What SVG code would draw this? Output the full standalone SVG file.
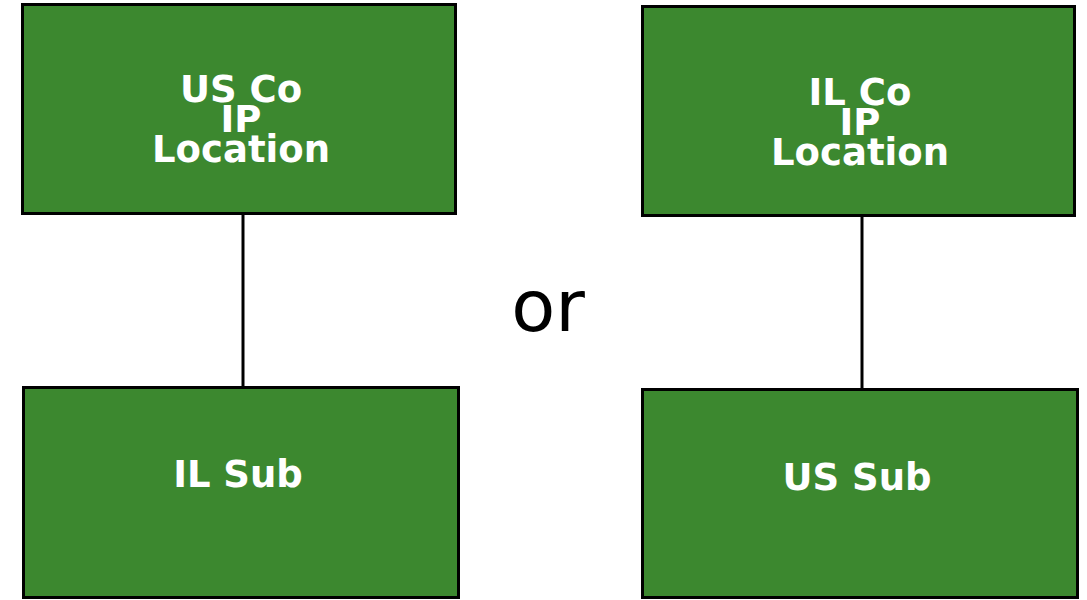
<svg xmlns="http://www.w3.org/2000/svg" width="1087" height="600" viewBox="0 0 1087 600">
  <style>
    .box { fill: #3c882f; stroke: #000; stroke-width: 3; }
    .lbl { font-family: "DejaVu Sans", Verdana, sans-serif; font-weight: bold; font-size: 37px; fill: #fff; text-anchor: middle; }
    .link { stroke: #000; stroke-width: 3; fill: none; }
    .or { font-family: "DejaVu Sans", Verdana, sans-serif; font-size: 72px; fill: #000; text-anchor: middle; }
  </style>
  <rect width="1087" height="600" fill="#fff"/>
  <g id="connectors">
    <line class="link" x1="243" y1="213" x2="243" y2="387"/>
    <line class="link" x1="862" y1="216" x2="862" y2="389"/>
  </g>
  <g id="us-co">
    <rect class="box" x="22.5" y="4.5" width="433" height="209"/>
    <text class="lbl" x="241" y="102">US Co</text>
    <text class="lbl" x="241" y="132">IP</text>
    <text class="lbl" x="241" y="162">Location</text>
  </g>
  <g id="il-sub">
    <rect class="box" x="23.5" y="387.5" width="435" height="210"/>
    <text class="lbl" x="238" y="487">IL Sub</text>
  </g>
  <g id="il-co">
    <rect class="box" x="642.5" y="6.5" width="432" height="209"/>
    <text class="lbl" x="860" y="105">IL Co</text>
    <text class="lbl" x="860" y="135">IP</text>
    <text class="lbl" x="860" y="165">Location</text>
  </g>
  <g id="us-sub">
    <rect class="box" x="642.5" y="389.5" width="435" height="208"/>
    <text class="lbl" x="857" y="490">US Sub</text>
  </g>
  <text class="or" x="548" y="331">or</text>
</svg>
